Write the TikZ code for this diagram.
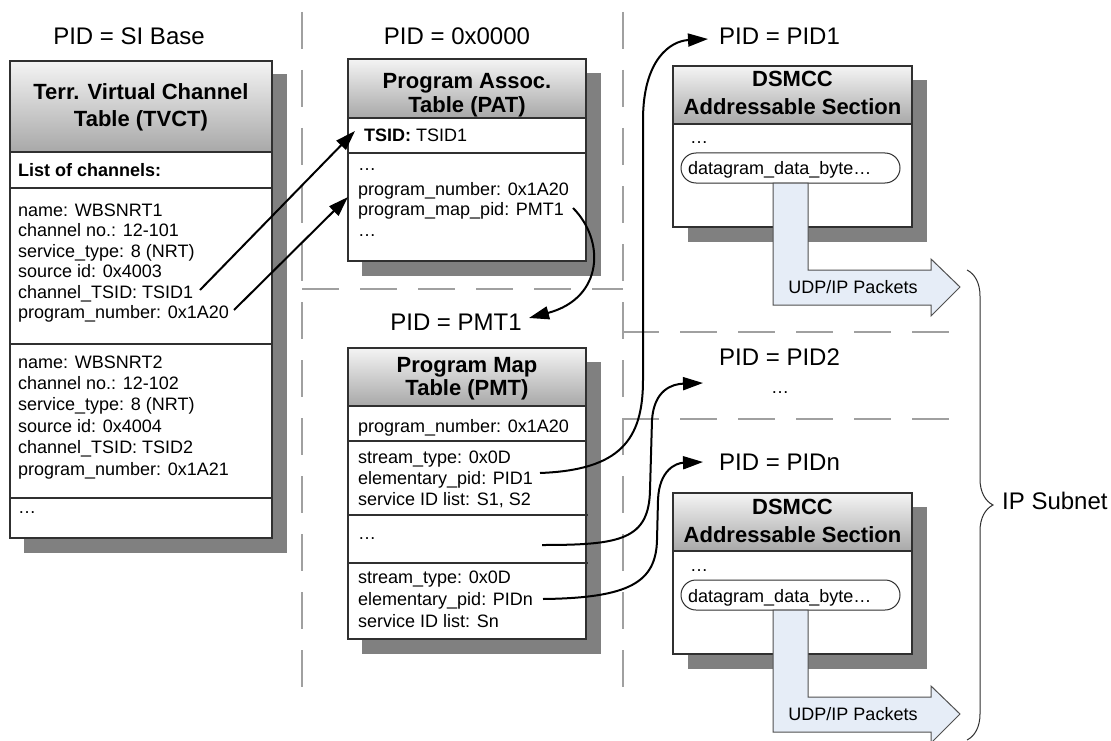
\documentclass[tikz,border=0pt]{standalone}
\usepackage{fontspec}
\setmainfont{Liberation Sans}
\usetikzlibrary{arrows.meta,decorations.pathreplacing}
\definecolor{shadowgray}{HTML}{808080}
\definecolor{dashgray}{HTML}{A0A0A0}
\definecolor{boxline}{HTML}{303030}
\definecolor{hdrtop}{HTML}{F4F4F4}
\definecolor{hdrbot}{HTML}{A8A8A8}
\definecolor{arrowfill}{HTML}{E6EDF7}
\definecolor{arrowline}{HTML}{505050}
\begin{document}
\begin{tikzpicture}[x=1pt,y=-1pt,
  shadowbox/.style={fill=shadowgray},
  tbox/.style={draw=boxline,line width=1.3pt,fill=white},
  hdrfill/.style={top color=hdrtop,bottom color=hdrbot,draw=boxline,line width=1.3pt},
  sepline/.style={draw=boxline,line width=1.3pt},
  partline/.style={draw=dashgray,line width=2pt,dash pattern=on 37pt off 21pt},
  txt/.style={font=\fontsize{18}{21}\selectfont,inner sep=0pt,anchor=base west},
  btxt/.style={font=\fontsize{18}{21}\selectfont\bfseries,inner sep=0pt,anchor=base west},
  hdr/.style={font=\fontsize{22}{26}\selectfont\bfseries,inner sep=0pt,anchor=base},
  pid/.style={font=\fontsize{24}{28}\selectfont,inner sep=0pt,anchor=base},
  conn/.style={line width=2pt,-{Triangle[length=20pt,width=13pt]}},
  bigarrow/.style={fill=arrowfill,draw=arrowline,line width=1pt},
  pill/.style={draw=boxline,line width=1pt,fill=white,rounded corners=15pt},
]
\clip (0,0) rectangle (1111,741);
\fill[white] (0,0) rectangle (1111,741);

% partition lines
\draw[partline] (302,12) -- (302,692);
\draw[partline] (623,12) -- (623,692);
\draw[partline] (302,289) -- (623,289);
\draw[partline] (622,332) -- (950,332);
\draw[partline] (622,419) -- (950,419);

% ---------- TVCT ----------
\node[pid] (pidsi) at (129,45) {PID = SI Base};
\fill[shadowbox] (24,74) rectangle (287,553);
\draw[tbox] (10,61) rectangle (272,538);
\draw[hdrfill] (10,61) rectangle (272,152);
\draw[sepline] (10,188) -- (272,188);
\draw[sepline] (10,344) -- (272,344);
\draw[sepline] (10,498) -- (272,498);
\node[hdr] (tvh1) at (141,100) {Terr. Virtual Channel};
\node[hdr] (tvh2) at (141,127) {Table (TVCT)};
\node[btxt] (tvlist) at (18,176) {List of channels:};
\node[txt] (tva1) at (18,216) {name: WBSNRT1};
\node[txt] (tva2) at (18,236.5) {channel no.: 12-101};
\node[txt] (tva3) at (18,257) {service\_type: 8 (NRT)};
\node[txt] (tva4) at (18,277.5) {source id: 0x4003};
\node[txt] (tva5) at (18,298) {channel\_TSID: TSID1};
\node[txt] (tva6) at (18,318.5) {program\_number: 0x1A20};
\node[txt] (tvb1) at (18,368) {name: WBSNRT2};
\node[txt] (tvb2) at (18,389.4) {channel no.: 12-102};
\node[txt] (tvb3) at (18,410.8) {service\_type: 8 (NRT)};
\node[txt] (tvb4) at (18,432.2) {source id: 0x4004};
\node[txt] (tvb5) at (18,453.6) {channel\_TSID: TSID2};
\node[txt] (tvb6) at (18,475) {program\_number: 0x1A21};
\node[txt] (tvdots) at (18,513) {…};

% ---------- PAT ----------
\node[pid] (pid0) at (457,45) {PID = 0x0000};
\fill[shadowbox] (362,73) rectangle (601,276);
\draw[tbox] (348,59) rectangle (586,261);
\draw[hdrfill] (348,59) rectangle (586,118);
\draw[sepline] (348,153) -- (586,153);
\node[hdr] (path1) at (467,89) {Program Assoc.};
\node[hdr] (path2) at (467,113) {Table (PAT)};
\node[txt] (pattsid) at (364,142) {\textbf{TSID:} TSID1};
\node[txt] (patd1) at (358,171) {…};
\node[txt] (patpn) at (358,195) {program\_number: 0x1A20};
\node[txt] (patpm) at (358,215) {program\_map\_pid: PMT1};
\node[txt] (patd2) at (358,236) {…};

% ---------- PMT ----------
\node[pid] (pidpmt) at (456,330) {PID = PMT1};
\fill[shadowbox] (362,362) rectangle (601,654);
\draw[tbox] (348,348) rectangle (586,639);
\draw[hdrfill] (348,348) rectangle (586,406);
\draw[sepline] (348,441) -- (586,441);
\draw[sepline] (348,515) -- (588,515);
\draw[sepline] (348,563) -- (588,563);
\node[hdr] (pmth1) at (467,372) {Program Map};
\node[hdr] (pmth2) at (467,395) {Table (PMT)};
\node[txt] (pmtpn) at (358,432) {program\_number: 0x1A20};
\node[txt] (pmta1) at (358,463) {stream\_type: 0x0D};
\node[txt] (pmta2) at (358,484) {elementary\_pid: PID1};
\node[txt] (pmta3) at (358,505) {service ID list: S1, S2};
\node[txt] (pmtdots) at (358,539) {…};
\node[txt] (pmtb1) at (358,583) {stream\_type: 0x0D};
\node[txt] (pmtb2) at (358,605) {elementary\_pid: PIDn};
\node[txt] (pmtb3) at (358,627) {service ID list: Sn};

% ---------- right column ----------
\node[pid,anchor=base west] (pid1) at (719,45) {PID = PID1};
\node[pid,anchor=base west] (pid2) at (719,365) {PID = PID2};
\node[txt,anchor=base] (pid2dots) at (780,393) {…};
\node[pid,anchor=base west] (pidn) at (719,470) {PID = PIDn};

\foreach \dy/\nm in {0/a,427/b}{
  \begin{scope}[shift={(0,\dy)}]
    \fill[shadowbox] (688,80) rectangle (927,242);
    \draw[tbox] (673,66) rectangle (912,227);
    \draw[hdrfill] (673,66) rectangle (912,124);
    \node[hdr] (dsh1\nm) at (792.5,87) {DSMCC};
    \node[hdr] (dsh2\nm) at (792.5,115) {Addressable Section};
    \node[txt] (dsdots\nm) at (690,144) {…};
    \draw[pill] (681,153) rectangle (900,183);
    \node[txt] (dsdata\nm) at (688,175) {datagram\_data\_byte…};
    \draw[bigarrow] (773,183) -- (808,183) -- (808,270) -- (931,270) -- (931,259)
      -- (960,287) -- (931,316) -- (931,305) -- (773,305) -- cycle;
    \node[txt,anchor=base] (udp\nm) at (853,293) {UDP/IP Packets};
  \end{scope}
}

% brace
\draw[draw=boxline,line width=1pt,decorate,decoration={brace,amplitude=26pt}] (967,270) -- (967,740);
\node[pid,anchor=base west] (ipsub) at (1002,509) {IP Subnet};

% connectors
\coordinate (c1s) at (200,290); \coordinate (c1e) at (355,131);
\coordinate (c2s) at (234,310); \coordinate (c2e) at (348,197);
\coordinate (c3s) at (573,208); \coordinate (c3e) at (529,318);
\coordinate (c4s) at (540,473); \coordinate (c4e) at (708,39);
\coordinate (c5s) at (542,545); \coordinate (c5e) at (703,383);
\coordinate (c6s) at (543,599); \coordinate (c6e) at (703,462);
\draw[conn] (c1s) -- (c1e);
\draw[conn] (c2s) -- (c2e);
\draw[conn] (c3s) .. controls (605,240) and (604,298) .. (c3e);
\draw[conn] (c4s) .. controls (620,470) and (643,440) .. (643,380) -- (643,120)
  .. controls (643,60) and (670,41) .. (c4e);
\draw[conn] (c5s) .. controls (620,545) and (649,540) .. (650,490) -- (652,420)
  .. controls (654,390) and (672,384) .. (c5e);
\draw[conn] (c6s) .. controls (630,598) and (656,582) .. (657,540) -- (658,500)
  .. controls (659,470) and (676,463) .. (c6e);
\end{tikzpicture}
\end{document}
